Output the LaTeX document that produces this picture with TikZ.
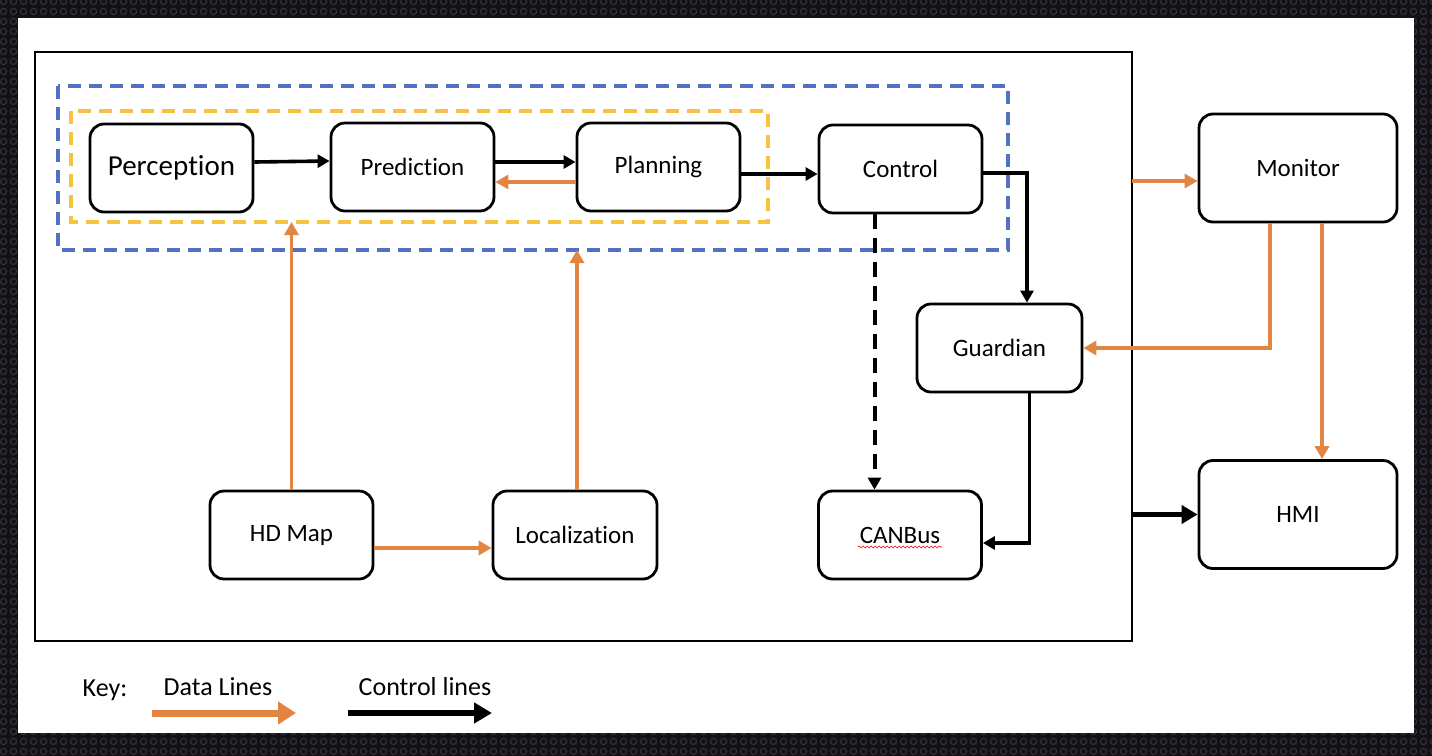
\documentclass[tikz,border=0pt]{standalone}
\usepackage{fontspec}
\setmainfont[Ligatures=NoCommon]{Carlito}
\usetikzlibrary{arrows.meta,decorations.pathmorphing,patterns.meta}

\definecolor{dataorange}{RGB}{226,132,66}
\definecolor{groupblue}{RGB}{84,112,196}
\definecolor{groupyellow}{RGB}{247,193,66}
\definecolor{backdrop}{RGB}{20,16,20}
\definecolor{meshgray}{RGB}{48,54,66}

\tikzdeclarepattern{
  name=mesh,
  type=uncolored,
  bottom left={(0pt,0pt)},
  top right={(5pt,5pt)},
  tile size={(5pt,5pt)},
  code={\draw[line width=0.6pt] (2.5pt,2.5pt) circle (1.7pt);}
}

\tikzset{
  module/.style={draw, fill=white, line width=1.4pt, rounded corners=7pt,
    minimum width=81.5pt, minimum height=44pt, inner sep=0pt,
    font=\fontsize{12.5}{15}\selectfont},
  bigmodule/.style={module, minimum width=99pt, minimum height=54pt},
  dataline/.style={draw=dataorange, line width=1.8pt, -{Triangle[length=6.5pt,width=7pt]}},
  ctrlline/.style={draw=black, line width=1.8pt, -{Triangle[length=6pt,width=6.5pt]}},
  group/.style={line width=1.7pt, dash pattern=on 6.5pt off 4pt},
  keytext/.style={font=\fontsize{13}{15}\selectfont}
}

\begin{document}
\begin{tikzpicture}[x=0.5pt,y=-0.5pt]

\fill[backdrop] (0,0) rectangle (1432,756); %% frame
\path[pattern=mesh, pattern color=meshgray] (0,0) rectangle (1432,756);
\fill[white] (18,18) rectangle (1414,733);

\draw[line width=0.9pt] (35,52) coordinate (outerNW) rectangle (1132,641) coordinate (outerSE);

%% groups
\draw[group, groupblue] (58,86) coordinate (bluNW) rectangle (1008,250) coordinate (bluSE);
\draw[group, groupyellow] (71,111) coordinate (ylwNW) rectangle (768,222) coordinate (ylwSE);

%% modules
\node[module, font=\fontsize{14.5}{17}\selectfont] (perc) at (171.5,168) {Perception};
\node[module] (pred) at (412.5,167) {Prediction};
\node[module] (plan) at (658.5,167) {Planning};
\node[module] (ctrl) at (900.5,169) {Control};
\node[module, minimum width=82.5pt] (guard) at (999.5,348) {Guardian};
\node[module] (can) at (900,535) {CANBus};
\node[module] (hdmap) at (291.5,535) {HD Map};
\node[module, minimum width=82pt] (loc) at (575,535) {Localization};
\node[bigmodule] (mon) at (1298,168) {Monitor};
\node[bigmodule] (hmi) at (1298,514.5) {HMI};

\draw[red, line width=0.3pt, decorate, decoration={snake, amplitude=0.5pt, segment length=2pt}]
  ([xshift=-21pt,yshift=-6pt]can.center) -- ([xshift=21pt,yshift=-6pt]can.center);

%% control lines
\draw[ctrlline] ([yshift=3pt]perc.east) -- ([yshift=3pt]pred.west);
\draw[ctrlline] ([yshift=2.5pt]pred.east) -- ([yshift=2.5pt]plan.west);
\coordinate (pc) at ([yshift=-3.5pt]plan.east);
\draw[ctrlline] (pc) -- (pc -| ctrl.west);
\draw[ctrlline] ([yshift=-2pt]ctrl.east) -| ([xshift=13.75pt]guard.north);
\coordinate (cc) at ([xshift=-13pt]ctrl.south);
\draw[ctrlline, line width=2pt, dash pattern=on 7.5pt off 4.5pt] (cc) -- (cc |- can.north);
\draw[ctrlline] ([xshift=15pt]guard.south) |- ([yshift=-4pt]can.east);
\draw[ctrlline, line width=2.8pt, -{Triangle[length=8pt,width=9pt]}] (hmi.west -| outerSE) -- (hmi.west);

%% data lines
\draw[dataline] ([yshift=-7.5pt]plan.west) -- ([yshift=-7.5pt]pred.east);
\draw[dataline] (hdmap.north) -- (hdmap.north |- ylwSE);
\draw[dataline] ([xshift=1pt]loc.north) -- ([xshift=1pt]loc.north |- bluSE);
\draw[dataline] ([yshift=-6.5pt]hdmap.east) -- ([yshift=-6.5pt]loc.west);
\coordinate (mc) at ([yshift=-6.5pt]mon.west);
\draw[dataline] (mc -| outerSE) -- (mc);
\draw[dataline] ([xshift=-14pt]mon.south) |- (guard.east);
\draw[dataline] ([xshift=12pt]mon.south) -- ([xshift=12pt]hmi.north);

%% key
\node[keytext] (keylbl) at (105,690) {Key:};
\node[keytext] (datalbl) at (218,687) {Data Lines};
\node[keytext] (ctrllbl) at (425,687) {Control lines};
\coordinate (dataA) at (152,713);
\coordinate (dataB) at (296,713);
\coordinate (ctrlA) at (348,713);
\coordinate (ctrlB) at (492,713);
\draw[draw=dataorange, line width=3.5pt, -{Triangle[length=9pt,width=11pt]}] (dataA) -- (dataB);
\draw[draw=black, line width=3pt, -{Triangle[length=9pt,width=10pt]}] (ctrlA) -- (ctrlB);

\end{tikzpicture}
\end{document}
